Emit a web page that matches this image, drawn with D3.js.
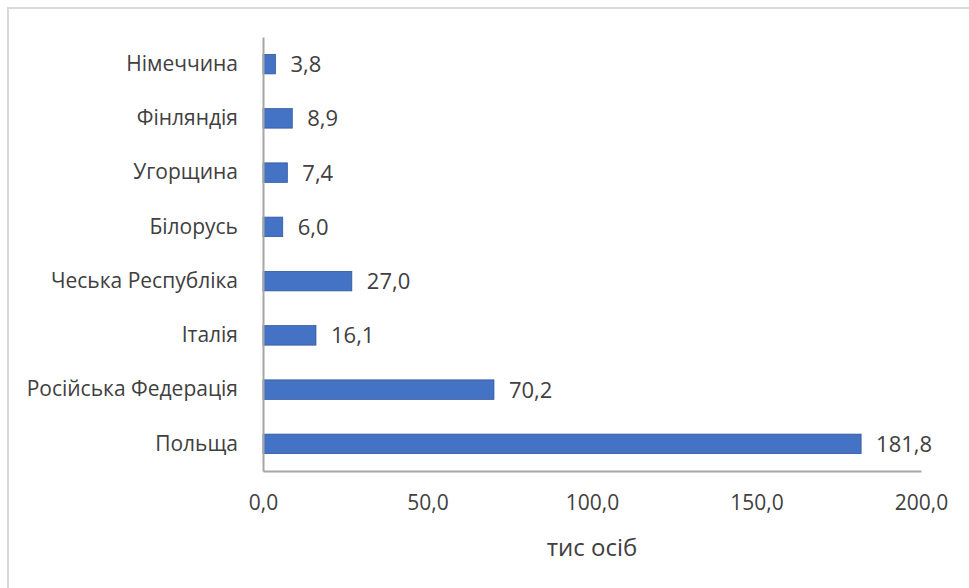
<!DOCTYPE html>
<html>
<head>
<meta charset="utf-8">
<script src="https://cdn.jsdelivr.net/npm/d3@7"></script>
<style>
  body { margin: 0; background: #fff; }
  svg text { font-family: "Open Sans", "Noto Sans", sans-serif; fill: #404040; }
</style>
</head>
<body>
<div id="chart-area"></div>
<script>
// data, top to bottom
var countries = ["Німеччина", "Фінляндія", "Угорщина", "Білорусь", "Чеська Республіка",
    "Італія", "Російська Федерація", "Польща"];
var values = [3.8, 8.9, 7.4, 6.0, 27.0, 16.1, 70.2, 181.8];
var xTicks = [0, 50, 100, 150, 200];
var axisTitle = "тис осіб";

var data = countries.map(function(c, i) { return { country: c, value: values[i] }; });

var W = 969, H = 588;
var margin = { left: 263, right: 48, top: 37, bottom: 117 };
var width = W - margin.left - margin.right,
    height = H - margin.top - margin.bottom;

var svg = d3.select("#chart-area")
    .append("svg")
        .attr("width", W)
        .attr("height", H);

// chart frame (only top/left visible in the picture)
svg.append("rect")
    .attr("x", 8)
    .attr("y", 8)
    .attr("width", W + 20)
    .attr("height", H + 20)
    .attr("fill", "none")
    .attr("stroke", "#d9d9d9")
    .attr("stroke-width", 2);

var g = svg.append("g")
    .attr("transform", "translate(" + margin.left + ", " + margin.top + ")");

var x = d3.scaleLinear()
    .domain([0, 200])
    .range([0, width]);

var y = d3.scaleBand()
    .domain(countries)
    .range([0, height])
    .paddingInner(0.64)
    .paddingOuter(0.32);

var fmt = function(d) { return d.toFixed(1).replace(".", ","); };

// bars
g.selectAll("rect.bar")
    .data(data)
    .enter()
    .append("rect")
        .attr("class", "bar")
        .attr("x", x(0))
        .attr("y", function(d) { return y(d.country); })
        .attr("width", function(d) { return x(d.value) - x(0); })
        .attr("height", y.bandwidth())
        .attr("fill", "#4472c4")
        .attr("stroke", "#2f5597")
        .attr("stroke-width", 0.75);

// value labels
g.selectAll("text.val")
    .data(data)
    .enter()
    .append("text")
        .attr("class", "val")
        .attr("x", function(d) { return x(d.value) + 15; })
        .attr("y", function(d) { return y(d.country) + y.bandwidth() / 2; })
        .attr("dy", "0.36em")
        .attr("font-size", "22px")
        .text(function(d) { return fmt(d.value); });

// X axis
var xAxisCall = d3.axisBottom(x)
    .tickValues(xTicks)
    .tickSize(0)
    .tickPadding(24)
    .tickFormat(fmt);
var xAxisGroup = g.append("g")
    .attr("transform", "translate(0," + height + ")")
    .call(xAxisCall);
xAxisGroup.select(".domain").attr("stroke", "#a6a6a6").attr("stroke-width", 2);
xAxisGroup.selectAll("text").attr("font-size", "21px").attr("fill", "#404040");

// Y axis
var yAxisCall = d3.axisLeft(y)
    .tickSize(0)
    .tickPadding(25);
var yAxisGroup = g.append("g")
    .call(yAxisCall);
yAxisGroup.select(".domain").attr("stroke", "#a6a6a6").attr("stroke-width", 2);
yAxisGroup.selectAll("text").attr("font-size", "21px").attr("fill", "#404040");

// X label
g.append("text")
    .attr("x", width / 2)
    .attr("y", height + 85)
    .attr("font-size", "24px")
    .attr("text-anchor", "middle")
    .text(axisTitle);
</script>
</body>
</html>
